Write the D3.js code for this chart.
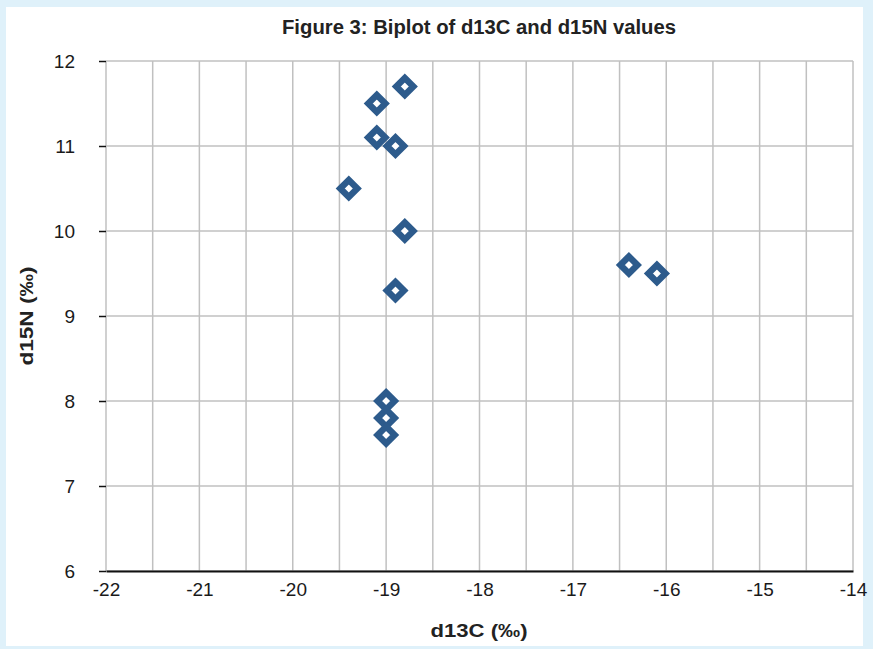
<!DOCTYPE html>
<html>
<meta charset="utf-8">
<script src="https://d3js.org/d3.v7.min.js"></script>
<style>
  body { margin: 0; background: #dff1fa; }
  #chart { position: absolute; left: 0; top: 0; }
</style>
<body>
<div id="chart"></div>
<script>
// data
const d13C = [-18.8, -19.1, -19.1, -18.9, -19.4, -18.8, -18.9, -19.0, -19.0, -19.0, -16.4, -16.1];
const d15N = [11.7, 11.5, 11.1, 11.0, 10.5, 10.0, 9.3, 8.0, 7.8, 7.6, 9.6, 9.5];
const xTicks = [-22, -21, -20, -19, -18, -17, -16, -15, -14];
const yTicks = [6, 7, 8, 9, 10, 11, 12];
const xGrid = d3.range(-22, -13.9, 0.5);

const W = 873, H = 649;
const margin = {top: 61, right: 20, bottom: 78, left: 106};
const width = 853 - margin.left,
      height = 571 - margin.top;

const root = d3.select("#chart").append("svg")
    .attr("width", W).attr("height", H);

// white panel over the light blue page
root.append("rect")
    .attr("x", 6).attr("y", 7).attr("width", 857).attr("height", 639)
    .attr("fill", "white");

const svg = root.append("g")
    .attr("transform", `translate(${margin.left}, ${margin.top})`);

const x = d3.scaleLinear().domain([-22, -14]).range([0, width]);
const y = d3.scaleLinear().domain([6, 12]).range([height, 0]);
const fmt = d => String(d);   // plain hyphen minus like the original

// grid
svg.selectAll(".vgrid")
  .data(xGrid)
  .join("line")
    .attr("x1", d => x(d)).attr("x2", d => x(d))
    .attr("y1", 0).attr("y2", height)
    .attr("stroke", "#c0c0c0").attr("stroke-width", 1.5);

svg.selectAll(".hgrid")
  .data(yTicks)
  .join("line")
    .attr("x1", 0).attr("x2", width)
    .attr("y1", d => y(d)).attr("y2", d => y(d))
    .attr("stroke", "#c0c0c0").attr("stroke-width", 1.5);

// y axis: ticks only, label text
const yAxis = svg.append("g")
    .call(d3.axisLeft(y).tickValues(yTicks).tickSize(7).tickPadding(24).tickFormat(fmt));
yAxis.select(".domain").remove();
yAxis.selectAll(".tick line").attr("stroke", "#111").attr("stroke-width", 1.5);
yAxis.selectAll("text")
    .style("font-family", "Liberation Sans, Arial, sans-serif")
    .style("font-size", "19px").attr("fill", "#1a1a1a");

// x axis
const xAxis = svg.append("g")
    .attr("transform", `translate(0, ${height})`)
    .call(d3.axisBottom(x).tickValues(xTicks).tickSize(0).tickPadding(12).tickFormat(fmt));
xAxis.select(".domain").attr("stroke", "#111").attr("stroke-width", 1.8);
xAxis.selectAll("text")
    .style("font-family", "Liberation Sans, Arial, sans-serif")
    .style("font-size", "19px").attr("fill", "#1a1a1a");

// points
const pts = d13C.map((v, i) => ({c: v, n: d15N[i]}));
svg.selectAll(".pt")
  .data(pts)
  .join("path")
    .attr("d", "M0,-8.5 L8.5,0 L0,8.5 L-8.5,0 Z")
    .attr("transform", d => `translate(${x(d.c)}, ${y(d.n)})`)
    .attr("fill", "white")
    .attr("stroke", "#2d5b8c")
    .attr("stroke-width", 6.5)
    .attr("stroke-linejoin", "miter");

// title and axis titles
root.append("text")
    .attr("x", 479).attr("y", 34)
    .attr("text-anchor", "middle")
    .attr("textLength", 394).attr("lengthAdjust", "spacingAndGlyphs")
    .style("font-family", "Liberation Sans Narrow, Arial Narrow, sans-serif")
    .style("font-weight", "bold").style("font-size", "20px")
    .attr("fill", "#222")
    .text("Figure 3: Biplot of d13C and d15N values");

root.append("text")
    .attr("x", 479).attr("y", 637)
    .attr("text-anchor", "middle")
    .attr("textLength", 97).attr("lengthAdjust", "spacingAndGlyphs")
    .style("font-family", "Liberation Sans, Arial, sans-serif")
    .style("font-weight", "bold").style("font-size", "19px")
    .attr("fill", "#222")
    .text("d13C (‰)");

root.append("text")
    .attr("transform", "translate(33, 316) rotate(-90)")
    .attr("text-anchor", "middle")
    .attr("textLength", 99).attr("lengthAdjust", "spacingAndGlyphs")
    .style("font-family", "Liberation Sans, Arial, sans-serif")
    .style("font-weight", "bold").style("font-size", "19px")
    .attr("fill", "#222")
    .text("d15N (‰)");
</script>
</body>
</html>
